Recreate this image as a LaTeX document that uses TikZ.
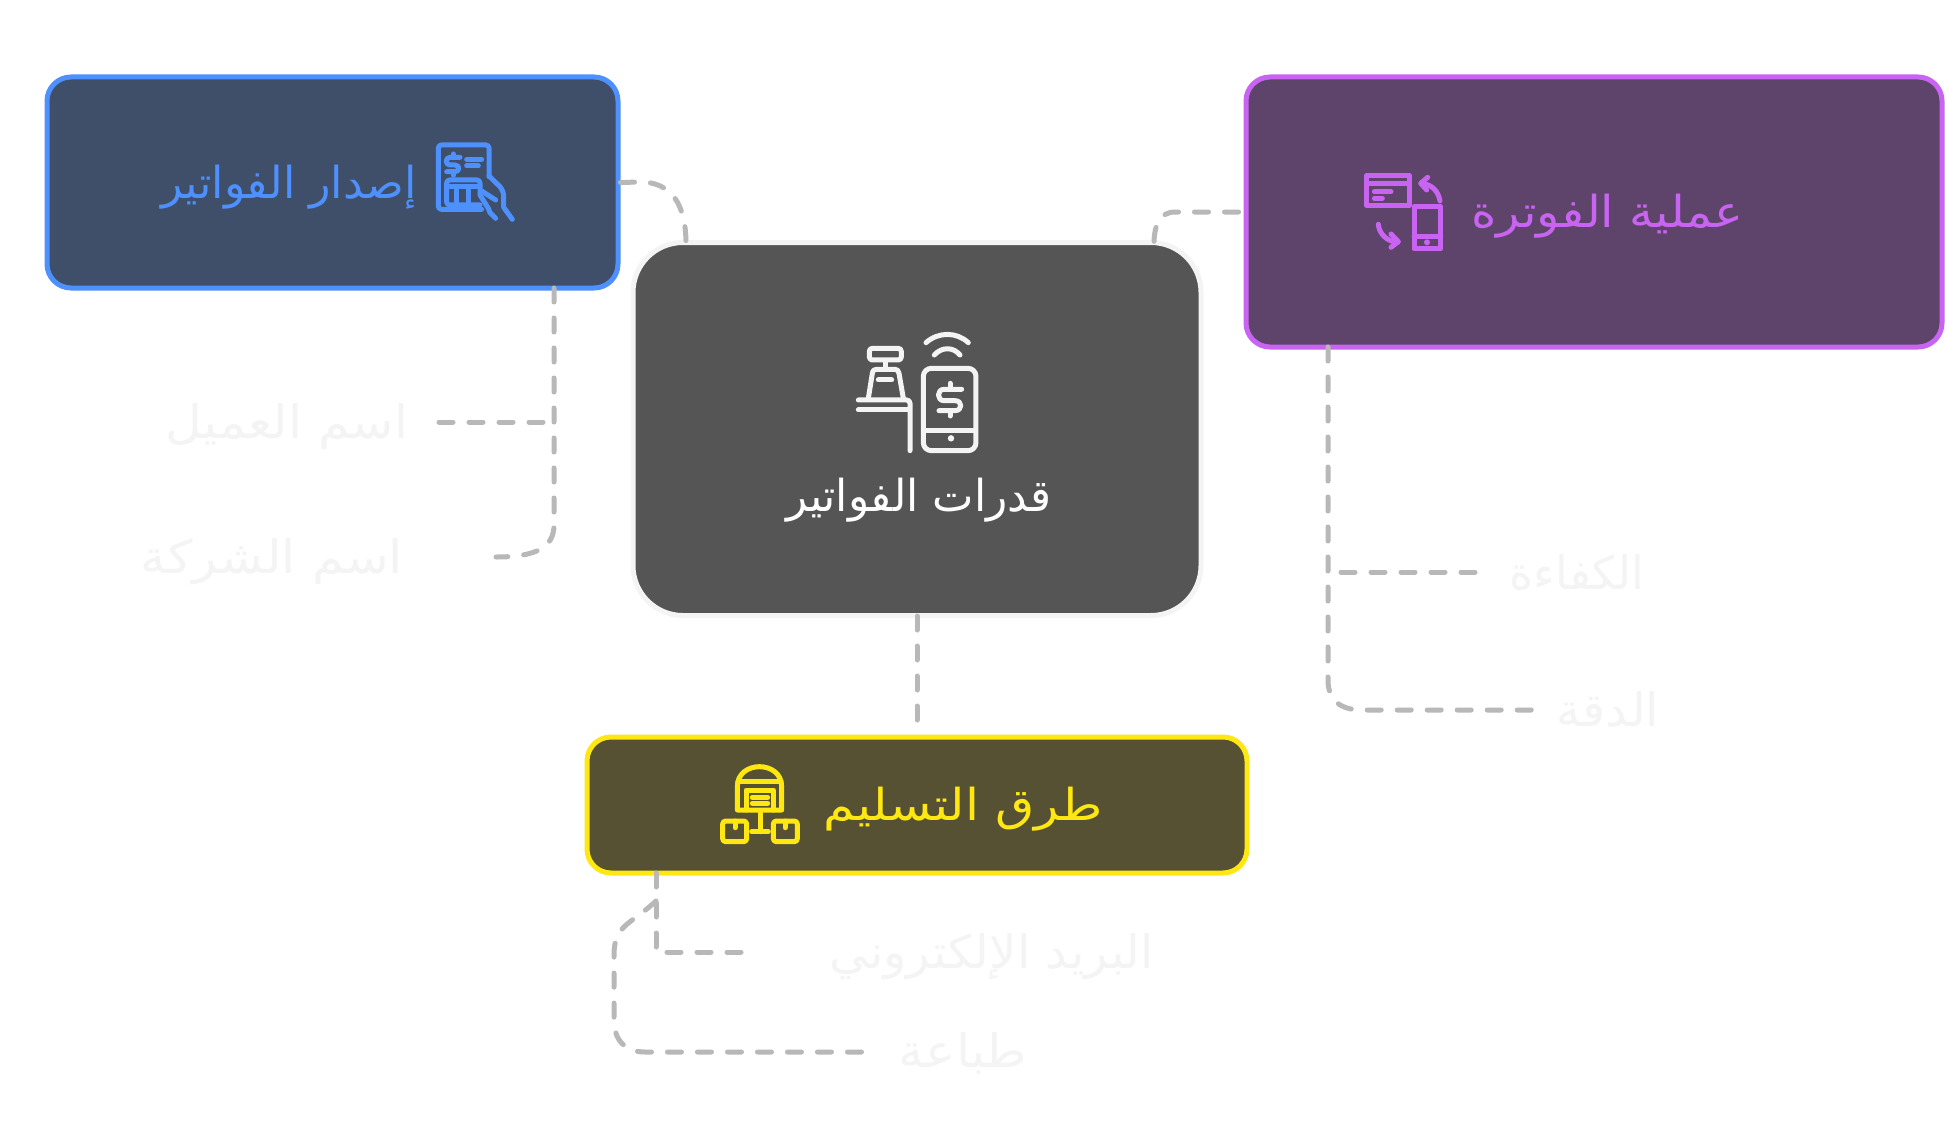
\documentclass[tikz,border=0pt]{standalone}
\usepackage{fontspec}
\usetikzlibrary{calc}
\TeXXeTstate=1
\newfontfamily\arabicfont[Script=Arabic]{DejaVu Sans}
\newcommand{\artext}[1]{\arabicfont\beginR #1\endR}
\definecolor{linkgrey}{HTML}{B8B8B8}
\definecolor{pale}{HTML}{F4F4F4}
\definecolor{cgrey}{HTML}{555555}
\definecolor{bluefg}{HTML}{4D90FE}
\definecolor{bluebg}{HTML}{3F4F69}
\definecolor{purpfg}{HTML}{C964F2}
\definecolor{purpbg}{HTML}{5E446B}
\definecolor{yelfg}{HTML}{FFE812}
\definecolor{yelbg}{HTML}{555132}
\tikzset{
  box/.style={draw,line width=5pt,rounded corners=24pt,inner sep=0pt},
  title/.style={inner sep=0pt,transform shape,font=\fontsize{44}{46}\selectfont},
  leaf/.style={inner sep=0pt,transform shape,text=pale,font=\fontsize{46}{48}\selectfont},
  link/.style={draw=linkgrey,line width=5pt,line cap=round,dash pattern=on 14pt off 16pt},
  iconline/.style={line width=5pt,line cap=round,line join=round}
}
\begin{document}
\begin{tikzpicture}[x=1pt,y=-1pt]
\useasboundingbox[fill=white] (0,0) rectangle (1945,1145);
% boxes
\node[box,draw=pale,fill=cgrey,rounded corners=50pt,minimum width=568pt,minimum height=373pt] (center) at (917,429) {};
\node[box,draw=bluefg,fill=bluebg,minimum width=571pt,minimum height=211pt] (blue) at (332.5,182.5) {};
\node[box,draw=purpfg,fill=purpbg,minimum width=696pt,minimum height=270pt] (purple) at (1594,212) {};
\node[box,draw=yelfg,fill=yelbg,minimum width=660pt,minimum height=136pt] (yellow) at (917,805) {};
% titles
\node[title,text=white,xscale=1] (tcenter) at (919,500) {\artext{قدرات الفواتير}};
\node[title,text=bluefg,xscale=1.01] (tblue) at (289,187) {\artext{إصدار الفواتير}};
\node[title,text=purpfg,xscale=1.1] (tpurple) at (1607,216) {\artext{عملية الفوترة}};
\node[title,text=yelfg,xscale=1.15] (tyellow) at (963,809) {\artext{طرق التسليم}};
% leaves
\node[leaf,xscale=1.1] (l1) at (287,427) {\artext{اسم العميل}};
\node[leaf,xscale=1.11] (l2) at (272,562) {\artext{اسم الشركة}};
\node[leaf] (l3) at (1577,573) {\artext{الكفاءة}};
\node[leaf,xscale=1.05] (l4) at (1608,709) {\artext{الدقة}};
\node[leaf,xscale=1.05] (l5) at (992,957) {\artext{البريد الإلكتروني}};
\node[leaf,xscale=1.1] (l6) at (963,1053) {\artext{طباعة}};
% free ends
\coordinate (e1) at (434,422);
\coordinate (e2) at (496,557);
\coordinate (e3) at (1478,572);
\coordinate (e4) at (1534,710);
\coordinate (e5) at (742,952);
\coordinate (e6) at (862,1052);
\coordinate (y1) at (656,873);
\coordinate (y2) at (656,901);
\coordinate (b1) at (554,288);
\coordinate (p1) at (1328,347);
\coordinate (c1) at (686,244);
\coordinate (c2) at (1154,244);
\coordinate (c3) at (917,616);
\coordinate (y3) at (917,722);
% connectors
\draw[link] (blue.east) -- (640,182) .. controls (672,182) and (686,205) .. (c1);
\draw[link] ($(purple.west)+(-5,0)$) -- (1175,212) .. controls (1160,212) and (1154,225) .. (c2);
\draw[link] (c3) -- (y3);
\draw[link] (b1) -- (554,525) .. controls (554,548) and (535,557) .. (e2);
\draw[link] (543,422) -- (e1);
\draw[link] (p1) -- (1328,680) .. controls (1328,700) and (1340,710) .. (1362,710) -- (e4);
\draw[link] (1341,572) -- (e3);
\draw[link] (y1) -- (656,952) -- (e5);
\draw[link] (y2) .. controls (630,925) and (614,925) .. (614,955) -- (614,1020) .. controls (614,1040) and (625,1052) .. (645,1052) -- (e6);
% centre icon
\begin{scope}[shift={(840,320)},x=0.3333pt,y=-0.3333pt,iconline,draw=pale]
\draw[rounded corners=3pt] (88,85) rectangle (184,120);
\draw (135,122) -- (135,145);
\draw (85,235) -- (97,160) .. controls (99,150) and (103,148) .. (110,148) -- (165,148) .. controls (172,148) and (175,152) .. (177,160) -- (190,235);
\draw (115,180) -- (155,180);
\draw (55,240) -- (200,240) .. controls (206,240) and (210,244) .. (210,250) -- (210,392);
\draw (55,270) -- (205,270);
\draw[rounded corners=8pt] (250,145) rectangle (408,392);
\draw (252,333) -- (406,333);
\fill[pale] (333,355) circle[radius=3.2pt];
\draw (365,208) -- (312,208) .. controls (290,208) and (290,242) .. (312,242) -- (345,242) .. controls (368,242) and (368,272) .. (345,272) -- (297,272);
\draw (330,190) -- (330,206);
\draw (330,274) -- (330,288);
\draw (258,68) .. controls (295,35) and (350,35) .. (385,68);
\draw (283,105) .. controls (305,80) and (340,80) .. (360,105);
\end{scope}
% blue icon
\begin{scope}[shift={(425,130)},x=0.3333pt,y=-0.3333pt,iconline,draw=bluefg]
\draw[rounded corners=3pt] (170,238) -- (40,238) -- (40,45) -- (192,45) -- (192,140);
\draw (125,88) -- (170,88);
\draw (125,108) -- (160,108);
\draw (105,82) -- (75,82) .. controls (60,82) and (60,105) .. (75,105) -- (90,105) .. controls (105,105) and (105,125) .. (90,125) -- (65,125);
\draw (85,72) -- (85,80);
\draw (85,127) -- (85,136);
\draw[rounded corners=3pt] (165,190) -- (165,150) -- (65,150) -- (65,225) -- (165,225);
\draw (65,170) -- (165,170);
\draw (95,170) -- (95,225);
\draw (130,170) -- (130,225);
\draw (192,138) -- (225,170) .. controls (232,180) and (236,188) .. (236,200) -- (236,232) -- (262,268);
\draw (170,183) -- (212,210);
\draw (165,195) -- (190,235) -- (195,248) -- (212,265);
\end{scope}
% purple icon
\begin{scope}[shift={(1355,165)},x=0.3333pt,y=-0.3333pt,iconline,draw=purpfg]
\draw (35,32) rectangle (163,122);
\draw (35,55) -- (163,55);
\draw (58,80) -- (108,80);
\draw (58,100) -- (82,100);
\draw (177,125) rectangle (257,252);
\draw (177,215) -- (257,215);
\fill[purpfg] (216,232) circle[radius=3pt];
\draw (255,108) .. controls (250,78) and (230,58) .. (200,55);
\draw (218,37) -- (197,55) -- (215,75);
\draw (70,178) .. controls (72,205) and (95,230) .. (128,232);
\draw (108,207) -- (130,230) -- (108,247);
\end{scope}
% yellow icon
\begin{scope}[shift={(710,755)},x=0.3333pt,y=-0.3333pt,iconline,draw=yelfg]
\draw (82,165) -- (82,95) .. controls (82,15) and (215,15) .. (215,95) -- (215,165) -- cycle;
\draw (84,78) -- (213,78);
\draw (108,165) -- (108,105) -- (190,105) -- (190,165);
\draw (127,127) -- (173,127);
\draw (127,145) -- (173,145);
\draw (150,175) -- (150,230);
\draw (125,230) -- (175,230);
\draw[rounded corners=3pt] (38,198) rectangle (110,260);
\draw (75,198) -- (75,218);
\draw[rounded corners=3pt] (190,198) rectangle (262,260);
\draw (225,198) -- (225,218);
\end{scope}
\end{tikzpicture}
\end{document}
